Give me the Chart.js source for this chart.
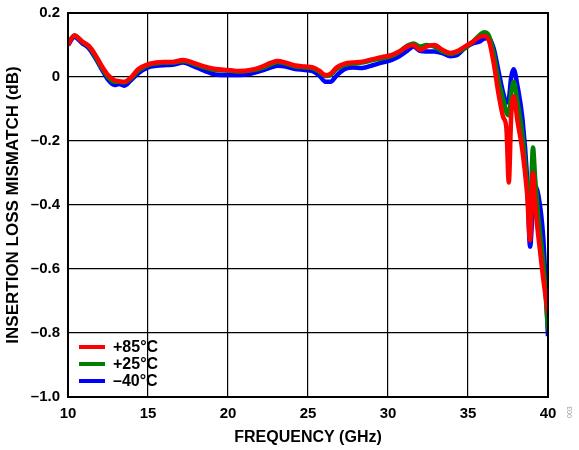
<!DOCTYPE html>
<html>
<head>
<meta charset="utf-8">
<script src="https://cdn.jsdelivr.net/npm/chart.js@4/dist/chart.umd.min.js"></script>
<style>
  html, body { margin: 0; padding: 0; background: #fff; }
  #wrap { position: relative; width: 579px; height: 450px; }
  canvas { display: block; }
  .lg { position: absolute; left: 79px; font: bold 16px "Liberation Sans", Arial, sans-serif; color: #000; }
  .lg span.sw { position: absolute; left: 0; width: 26px; height: 4px; }
  .lg span.tx { position: absolute; left: 34px; white-space: nowrap; line-height: 16px; top: -8px; }
  #fig { position: absolute; left: 566px; top: 418px; font: 7px "Liberation Sans", Arial, sans-serif; color: #999; transform: rotate(-90deg); transform-origin: left top; }
</style>
</head>
<body>
<div id="wrap">
  <canvas id="c" width="579" height="450"></canvas>
  <div id="legend"></div>
  <div id="fig">003</div>
</div>
<script>
// Frequency sample points (GHz)
const freqGHz = [10, 10.4, 10.9, 11.3, 11.7, 12.1, 12.5, 12.9, 13.2, 13.5, 13.9, 14.4, 15, 15.5, 16, 16.5, 17.2, 17.8, 18.5, 19.2, 20, 20.7, 21.4, 22.1, 22.7, 23.1, 23.6, 24.2, 24.8, 25.3, 25.7, 26.1, 26.4, 26.8, 27.3, 27.8, 28.4, 29, 29.6, 30.2, 30.7, 31.2, 31.6, 32, 32.4, 32.9, 33.4, 33.9, 34.3, 34.8, 35.3, 35.7, 36, 36.3, 36.6, 36.9, 37.2, 37.4, 37.55, 37.7, 37.85, 38.1, 38.4, 38.7, 38.88, 39.06, 39.2, 39.4, 39.7, 40];

// Insertion loss mismatch (dB)
const plus85C = [0.10, 0.13, 0.11, 0.097, 0.07, 0.035, 0.006, -0.01, -0.013, -0.015, -0.003, 0.025, 0.04, 0.045, 0.047, 0.047, 0.053, 0.045, 0.033, 0.025, 0.022, 0.019, 0.022, 0.032, 0.045, 0.05, 0.045, 0.036, 0.033, 0.03, 0.02, 0.006, 0.01, 0.03, 0.042, 0.045, 0.048, 0.055, 0.062, 0.068, 0.08, 0.095, 0.10, 0.085, 0.095, 0.10, 0.085, 0.075, 0.08, 0.095, 0.11, 0.125, 0.128, 0.115, 0.045, -0.05, -0.125, -0.16, -0.33, -0.12, -0.06, -0.14, -0.23, -0.37, -0.51, -0.30, -0.40, -0.50, -0.63, -0.74];
const plus25C = [0.105, 0.13, 0.11, 0.095, 0.065, 0.03, 0.0, -0.015, -0.015, -0.017, -0.006, 0.02, 0.037, 0.042, 0.045, 0.045, 0.05, 0.042, 0.03, 0.022, 0.02, 0.017, 0.02, 0.028, 0.04, 0.047, 0.042, 0.033, 0.03, 0.027, 0.016, 0.003, 0.006, 0.025, 0.038, 0.042, 0.045, 0.052, 0.058, 0.065, 0.078, 0.098, 0.105, 0.095, 0.10, 0.095, 0.08, 0.072, 0.077, 0.09, 0.11, 0.13, 0.14, 0.13, 0.075, -0.01, -0.07, -0.11, -0.12, -0.05, -0.015, -0.08, -0.18, -0.34, -0.43, -0.22, -0.32, -0.44, -0.58, -0.79];
const minus40C = [0.10, 0.125, 0.105, 0.09, 0.06, 0.025, -0.008, -0.025, -0.022, -0.027, -0.012, 0.012, 0.03, 0.035, 0.037, 0.038, 0.045, 0.035, 0.02, 0.008, 0.006, 0.006, 0.01, 0.02, 0.03, 0.035, 0.033, 0.025, 0.022, 0.018, 0.005, -0.015, -0.015, 0.005, 0.025, 0.03, 0.028, 0.036, 0.045, 0.053, 0.065, 0.082, 0.095, 0.082, 0.08, 0.08, 0.075, 0.065, 0.068, 0.09, 0.105, 0.11, 0.12, 0.122, 0.09, 0.02, -0.05, -0.08, -0.07, 0.0, 0.024, -0.03, -0.13, -0.32, -0.53, -0.40, -0.34, -0.37, -0.50, -0.81];

const seriesLabels = ['+85°C', '+25°C', '–40°C'];
const seriesColors = ['#ff0000', '#008000', '#0000ff'];
const xTicks = [10, 15, 20, 25, 30, 35, 40];
const yTicks = [0.2, 0, -0.2, -0.4, -0.6, -0.8, -1.0];

const seriesValues = [plus85C, plus25C, minus40C];
const datasets = seriesValues.map((vals, i) => ({
  label: seriesLabels[i],
  data: freqGHz.map((f, k) => ({ x: f, y: vals[k] })),
  borderColor: seriesColors[i],
  backgroundColor: seriesColors[i],
  borderWidth: 4.5,
  pointRadius: 0,
  fill: false,
  cubicInterpolationMode: 'monotone'
}));

function fmtY(v) {
  const r = Math.round(v * 10) / 10;
  if (r === 0) return '0';
  const s = Math.abs(r).toFixed(1);
  return r < 0 ? '–' + s : s;
}

const framePlugin = {
  id: 'frame',
  afterDatasetsDraw(chart) {
    const { ctx, chartArea: a } = chart;
    ctx.save();
    ctx.strokeStyle = '#000';
    ctx.lineWidth = 2;
    ctx.strokeRect(a.left, a.top, a.right - a.left, a.bottom - a.top);
    ctx.restore();
  }
};

const tickFont = { family: '"Liberation Sans", Arial, sans-serif', size: 15, weight: 'bold' };

const chart = new Chart(document.getElementById('c'), {
  type: 'line',
  data: { datasets },
  plugins: [framePlugin],
  options: {
    responsive: false,
    animation: false,
    layout: { padding: { left: 0, right: 31, top: 13, bottom: 0 } },
    plugins: { legend: { display: false }, tooltip: { enabled: false } },
    scales: {
      x: {
        type: 'linear',
        min: 10, max: 40,
        afterBuildTicks(scale) { scale.ticks = xTicks.map(v => ({ value: v })); },
        afterFit(scale) { scale.height = 53; scale.paddingLeft = 0; scale.paddingRight = 0; },
        grid: { color: '#000', lineWidth: 1.2, drawTicks: false },
        border: { display: false },
        ticks: { color: '#000', font: tickFont, padding: 8, maxRotation: 0, callback: v => String(v) },
        title: { display: true, text: 'FREQUENCY (GHz)', color: '#000', font: { family: '"Liberation Sans", Arial, sans-serif', size: 16, weight: 'bold' }, padding: { top: 0, bottom: 3 } }
      },
      y: {
        type: 'linear',
        min: -1.0, max: 0.2,
        afterBuildTicks(scale) { scale.ticks = yTicks.map(v => ({ value: v })); },
        afterFit(scale) { scale.width = 68; scale.paddingTop = 0; scale.paddingBottom = 0; },
        grid: { color: '#000', lineWidth: 1.2, drawTicks: false },
        border: { display: false },
        ticks: { color: '#000', font: tickFont, padding: 8, callback: v => fmtY(v) },
        title: { display: true, text: 'INSERTION LOSS MISMATCH (dB)', color: '#000', font: { family: '"Liberation Sans", Arial, sans-serif', size: 17, weight: 'bold' }, padding: { top: 3, bottom: 0 } }
      }
    }
  }
});

// Legend (inside plot, bottom-left)
const legendTops = [347, 364, 381];
const lg = document.getElementById('legend');
seriesLabels.forEach((lab, i) => {
  const d = document.createElement('div');
  d.className = 'lg';
  d.style.top = legendTops[i] + 'px';
  d.innerHTML = '<span class="sw" style="top:-2px;background:' + seriesColors[i] + '"></span><span class="tx">' + lab + '</span>';
  lg.appendChild(d);
});
</script>
</body>
</html>
